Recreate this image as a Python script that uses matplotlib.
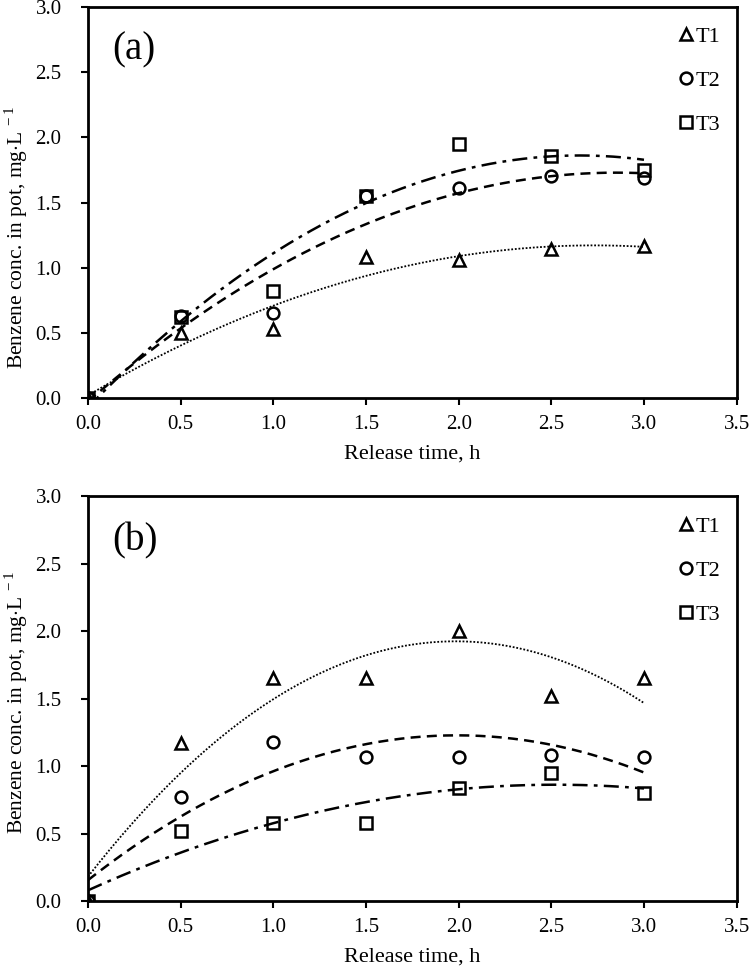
import numpy as np
import matplotlib.pyplot as plt

plt.rcParams['font.family'] = ['Liberation Serif', 'DejaVu Serif']
plt.rcParams['mathtext.fontset'] = 'custom'
plt.rcParams['mathtext.rm'] = 'Liberation Serif'

t = np.array([0, 0.5, 1.0, 1.5, 2.0, 2.5, 3.0])

# panel (a)
a_t1 = np.array([0, 0.50, 0.53, 1.08, 1.06, 1.14, 1.17])
a_t2 = np.array([0, 0.63, 0.65, 1.55, 1.61, 1.70, 1.69])
a_t3 = np.array([0, 0.62, 0.82, 1.55, 1.95, 1.86, 1.75])

# panel (b)
b_t1 = np.array([0, 1.17, 1.65, 1.65, 2.00, 1.52, 1.65])
b_t2 = np.array([0, 0.77, 1.18, 1.07, 1.07, 1.08, 1.07])
b_t3 = np.array([0, 0.52, 0.58, 0.58, 0.84, 0.95, 0.80])

labels = ['T1', 'T2', 'T3']
markers = ['^', 'o', 's']
styles = [(0, (1, 1)), (0, (4, 2.5)), (0, (6, 2.5, 1.5, 2.5))]
widths = [1.3, 1.8, 1.8]

fig = plt.figure(figsize=(7.49, 9.68), dpi=100)
ax1 = fig.add_axes([0.1175, 0.5888, 0.866, 0.404])
ax2 = fig.add_axes([0.1175, 0.0692, 0.866, 0.4184])


def panel(ax, series, tag, deg, ylab_y):
    tt = np.linspace(0, 3, 200)
    for y, lab, m, ls, lw in zip(series, labels, markers, styles, widths):
        c = np.polyfit(t, y, deg)
        ax.plot(tt, np.polyval(c, tt), color='black', ls=ls, lw=lw)
        ax.plot(t, y, m, ms=8.5, mfc='none', mec='black', mew=1.8, ls='none', label=lab)
    ax.set_xlim(0, 3.5)
    ax.set_ylim(0, 3.0)
    ax.set_xticks(np.arange(0, 3.51, 0.5))
    ax.set_yticks(np.arange(0, 3.01, 0.5))
    ax.xaxis.set_major_formatter(plt.FormatStrFormatter('%.1f'))
    ax.yaxis.set_major_formatter(plt.FormatStrFormatter('%.1f'))
    ax.tick_params(direction='out', length=5, width=1.5, labelsize=15)
    ax.tick_params(axis='y', pad=14)
    ax.tick_params(axis='x', pad=7)
    for s in ax.spines.values():
        s.set_linewidth(2)
    ax.set_xlabel('Release time, h', fontsize=16, labelpad=8)
    ax.set_ylabel(r'Benzene conc. in pot, mg$\cdot$L$^{\,-1}$', fontsize=15.5)
    ax.yaxis.set_label_coords(-0.09, ylab_y)
    ax.text(0.13, 2.6, tag, fontsize=28)
    ax.legend(loc='upper left', bbox_to_anchor=(0.912, 0.95), frameon=False, fontsize=16,
              handlelength=0.6, handletextpad=0.1, labelspacing=1.05,
              borderaxespad=0, borderpad=0)


panel(ax1, [a_t1, a_t2, a_t3], '(a)', 2, 0.41)
panel(ax2, [b_t1, b_t2, b_t3], '(b)', 2, 0.49)

fig.savefig('out.png', dpi=100)
